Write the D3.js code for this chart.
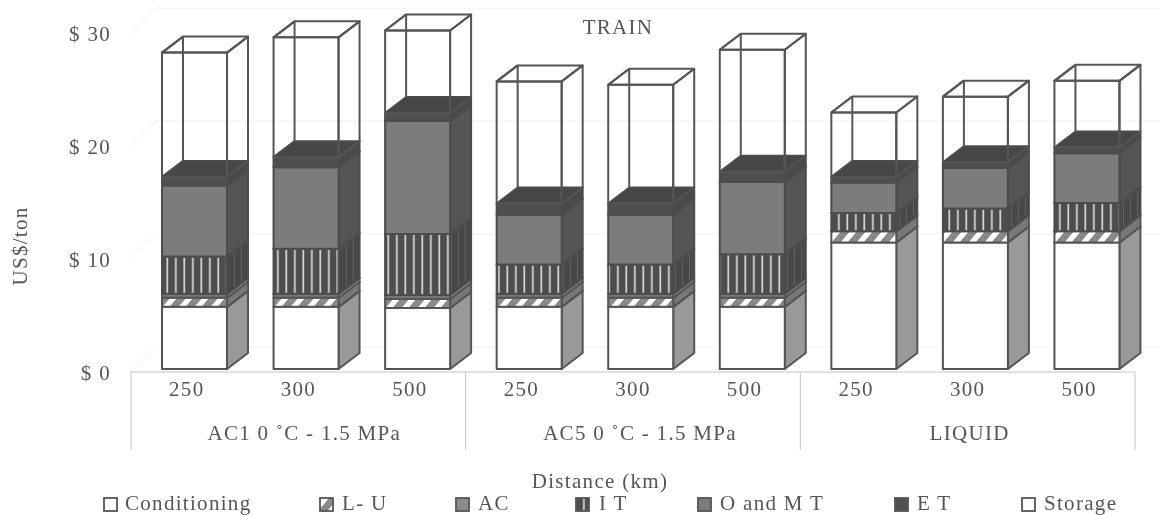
<!DOCTYPE html>
<html>
<head>
<meta charset="utf-8">
<script src="https://cdn.jsdelivr.net/npm/d3@7"></script>
<style>
  html, body { margin: 0; background: #fff; }
  svg { display: block; }
  #ink { filter: blur(0.45px); }
  text { font-family: "Liberation Serif", serif; fill: #555; font-size: 21px; letter-spacing: 1.3px; }
</style>
</head>
<body>
<svg id="chart" width="1164" height="515"></svg>
<script>
// Values, US$/ton
const distances = ['250', '300', '500', '250', '300', '500', '250', '300', '500'];
const groups = ['AC1 0 ˚C - 1.5 MPa', 'AC5 0 ˚C - 1.5 MPa', 'LIQUID'];
const yTicks = [0, 10, 20, 30];
const seriesNames = ['Conditioning', 'L- U', 'AC', 'I T', 'O and M T', 'E T', 'Storage'];

const conditioning = [5.5, 5.5, 5.4, 5.5, 5.5, 5.5, 11.2, 11.2, 11.2];
const loadUnload = [0.8, 0.8, 0.8, 0.8, 0.8, 0.8, 1.0, 1.0, 1.0];
const ac = [0.35, 0.35, 0.35, 0.35, 0.35, 0.35, 0, 0, 0];
const it = [3.3, 4.0, 5.4, 2.6, 2.6, 3.5, 1.6, 2.0, 2.5];
const omt = [6.3, 7.2, 10.0, 4.4, 4.4, 6.4, 2.7, 3.6, 4.4];
const et = [0.75, 0.9, 0.7, 1.0, 1.0, 0.9, 0.5, 0.5, 0.5];
const storage = [11.0, 10.6, 7.3, 10.8, 10.5, 10.8, 5.7, 5.8, 5.9];

const allSeries = [conditioning, loadUnload, ac, it, omt, et, storage];

const root = d3.select('#chart');
const inkColor = '#555';

// Fill patterns
const defs = root.append('defs');
const svg = root.append('g').attr('id', 'ink');

const stripes = defs.append('pattern').attr('id', 'stripes')
  .attr('patternUnits', 'userSpaceOnUse').attr('width', 8.5).attr('height', 8.5);
stripes.append('rect').attr('width', 8.5).attr('height', 8.5).attr('fill', '#4d4d4d');
stripes.append('rect').attr('x', 5).attr('width', 1.7).attr('height', 8.5).attr('fill', '#d8d8d8');

const stripesSide = defs.append('pattern').attr('id', 'stripesSide')
  .attr('patternUnits', 'userSpaceOnUse').attr('width', 7).attr('height', 8);
stripesSide.append('rect').attr('width', 7).attr('height', 8).attr('fill', '#484848');
stripesSide.append('rect').attr('x', 3).attr('width', 1).attr('height', 8).attr('fill', '#606060');

const hatch = defs.append('pattern').attr('id', 'hatch')
  .attr('patternUnits', 'userSpaceOnUse').attr('width', 16).attr('height', 9)
  .attr('patternTransform', 'skewX(-40)');
hatch.append('rect').attr('width', 16).attr('height', 9).attr('fill', '#8a8a8a');
hatch.append('rect').attr('x', 4).attr('width', 7).attr('height', 9).attr('fill', '#fff');

const fronts = ['#fff', 'url(#hatch)', '#777', 'url(#stripes)', '#7c7c7c', '#4f4f4f', 'none'];
const sides = ['#999', '#777', '#8c8c8c', 'url(#stripesSide)', '#555', '#4a4a4a', 'none'];
const tops = ['#888', '#666', '#888', '#444', '#555', '#474747', 'none'];

// Scales
const x = d3.scaleBand().domain(d3.range(distances.length)).range([131, 1135]);
const y = d3.scaleLinear().domain([0, 30]).range([372, 33]);

const barInset = 31;
const barWidth = 65;
const depthX = 21;
const depthY = 16;
const barLift = -3;

// Back wall and floor, very faint like in the scan
const wall = svg.append('g').attr('fill', 'none').attr('stroke', '#f0f0f0');
yTicks.forEach((t) => {
  wall.append('path').attr('d', d3.line()([
    [131, y(t)], [156, y(t) - 25], [1160, y(t) - 25],
  ]));
});

// Axis lines and group boxes
const frame = svg.append('g').attr('fill', 'none').attr('stroke', '#c4c4c4');
frame.append('line').attr('x1', 131).attr('x2', 1135).attr('y1', y(0)).attr('y2', y(0));
[0, 3, 6, 9].forEach((i) => {
  const px = i === 9 ? x.range()[1] : x(i);
  frame.append('line').attr('x1', px).attr('x2', px).attr('y1', y(0)).attr('y2', 450);
});

// Stacked 3D bars
const stackData = distances.map((d, i) => {
  const row = { i };
  seriesNames.forEach((name, s) => { row[name] = allSeries[s][i]; });
  return row;
});
const stacked = d3.stack().keys(seriesNames)(stackData);

const poly = d3.line().curve(d3.curveLinearClosed);

stackData.forEach((row, i) => {
  const bar = svg.append('g').attr('stroke', inkColor).attr('stroke-width', 2)
    .attr('stroke-linejoin', 'round');
  const x0 = x(i) + barInset;
  const x1 = x0 + barWidth;

  stacked.forEach((layer, s) => {
    const [v0, v1] = layer[i];
    if (v1 === v0) return;
    const yb = y(v0) + barLift;
    const yt = y(v1) + barLift;
    const isOpen = fronts[s] === 'none';
    const lineColor = (s === 4 || s === 5 || s === 3) ? '#4c4c4c' : inkColor;

    if (isOpen) {
      // Storage is a wire box, the back edges show through
      bar.append('path').attr('fill', 'none').attr('d', d3.line()([
        [x0 + depthX, yb - depthY], [x0 + depthX, yt - depthY],
      ]));
      bar.append('path').attr('fill', 'none').attr('d', d3.line()([
        [x0 + depthX, yt - depthY], [x0, yt],
      ]));
    }
    bar.append('path').attr('fill', sides[s]).attr('stroke', lineColor).attr('d', poly([
      [x1, yb], [x1 + depthX, yb - depthY], [x1 + depthX, yt - depthY], [x1, yt],
    ]));
    bar.append('path').attr('fill', tops[s]).attr('stroke', lineColor).attr('d', poly([
      [x0, yt], [x0 + depthX, yt - depthY], [x1 + depthX, yt - depthY], [x1, yt],
    ]));
    bar.append('rect').attr('x', x0).attr('y', yt).attr('width', barWidth).attr('height', yb - yt)
      .attr('fill', fronts[s]).attr('stroke', lineColor);
  });
});

// Axes
const yAxis = svg.append('g').attr('transform', 'translate(119,1)')
  .call(d3.axisLeft(y).tickValues(yTicks).tickSize(0).tickPadding(8).tickFormat((d) => `$ ${d}`));
yAxis.select('.domain').remove();
yAxis.selectAll('text').attr('font-family', null).attr('font-size', null).style('fill', '#555');

const xAxis = svg.append('g').attr('transform', `translate(0,${y(0)})`)
  .call(d3.axisBottom(x).tickSize(0).tickPadding(9).tickFormat((d) => distances[d]));
xAxis.select('.domain').remove();
xAxis.selectAll('text').attr('font-family', null).attr('font-size', null).style('fill', '#555');

// Group labels and titles
const groupShift = [6, 7, 2];
groups.forEach((g, k) => {
  svg.append('text').attr('x', x(k * 3) + x.bandwidth() * 1.5 + groupShift[k]).attr('y', 440)
    .attr('text-anchor', 'middle').text(g);
});
svg.append('text').attr('x', 618).attr('y', 34).attr('text-anchor', 'middle').text('TRAIN');
svg.append('text').attr('x', 600).attr('y', 488).attr('text-anchor', 'middle').text('Distance (km)');
svg.append('text').attr('transform', 'translate(27,246) rotate(-90)')
  .attr('text-anchor', 'middle').text('US$/ton');

// Legend
const legendBox = [104, 320, 456, 576, 698, 895, 1022];
const legendText = [125, 342, 478, 599, 720, 917, 1044];
const legendFill = ['#fff', 'url(#hatch)', '#8c8c8c', 'url(#stripes)', '#7c7c7c', '#4f4f4f', '#fff'];
seriesNames.forEach((name, s) => {
  svg.append('rect').attr('x', legendBox[s]).attr('y', 498).attr('width', 13).attr('height', 13)
    .attr('fill', legendFill[s]).attr('stroke', inkColor).attr('stroke-width', 1.8);
  svg.append('text').attr('x', legendText[s]).attr('y', 510).text(name);
});
</script>
</body>
</html>
